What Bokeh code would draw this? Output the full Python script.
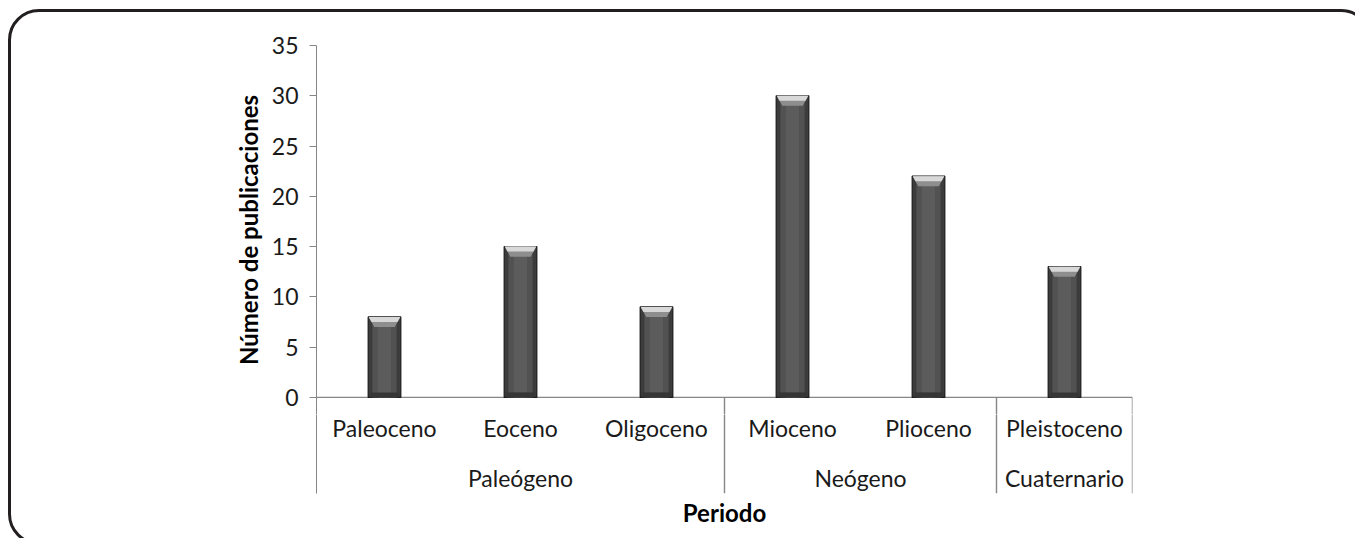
from bokeh.plotting import figure
from bokeh.layouts import column
from bokeh.models import FactorRange, Range1d, FixedTicker, Title, InlineStyleSheet, ColumnDataSource
from bokeh.core.properties import value
from bokeh.embed import file_html
from bokeh.resources import INLINE

# ---- data ----
categories = ["Paleoceno", "Eoceno", "Oligoceno", "Mioceno", "Plioceno", "Pleistoceno"]
groups = ["Paleógeno", "Paleógeno", "Paleógeno", "Neógeno", "Neógeno", "Cuaternario"]
publicaciones = [8, 15, 9, 30, 22, 13]
y_ticks = [0, 5, 10, 15, 20, 25, 30, 35]
y_title = "Número de publicaciones"
x_title = "Periodo"

# ---- style constants ----
FONT = "Lato"
AXIS_GRAY = "#868686"
TXT = "#1a1a1a"
BAR_W = 0.24
Y_PAD = -1.7           # room under the zero line in the bar panel (keeps the "0" label whole)
Y_MIN = -9.55          # bottom of the category table
CAT_LABEL_Y = -3.0
GROUP_LABEL_Y = -8.0
W = 1355
LEFT, RIGHT = 316, 223

n = len(categories)
xs = [i + 0.5 for i in range(n)]

unique_groups = []
for g in groups:
    if g not in unique_groups:
        unique_groups.append(g)
bounds = [0]
group_centres = []
for g in unique_groups:
    cnt = groups.count(g)
    start = bounds[-1]
    bounds.append(start + cnt)
    group_centres.append(start + cnt / 2)

xr = FactorRange(factors=categories, factor_padding=0, range_padding=0)

# ================= bar panel =================
p = figure(width=W, height=414, output_backend="svg", toolbar_location=None,
           x_range=xr, y_range=Range1d(Y_PAD, y_ticks[-1]), x_axis_location=None,
           min_border_left=LEFT, min_border_right=RIGHT, min_border_top=45, min_border_bottom=0)
p.outline_line_color = None
p.grid.visible = False

ya = p.yaxis[0]
ya.ticker = FixedTicker(ticks=y_ticks)
ya.axis_line_color = AXIS_GRAY
ya.major_tick_line_color = AXIS_GRAY
ya.major_tick_out = 7
ya.major_tick_in = 0
ya.minor_tick_line_color = None
ya.major_label_text_font = FONT
ya.major_label_text_font_size = "23px"
ya.major_label_text_color = TXT
ya.major_label_standoff = 11
ya.axis_label = y_title
ya.axis_label_text_font = FONT
ya.axis_label_text_font_size = "24px"
ya.axis_label_text_font_style = "bold"
ya.axis_label_text_color = "#000000"
ya.axis_label_standoff = 6

# zero line and separator stubs
p.segment(x0=[0], y0=[0], x1=[n], y1=[0], line_color=AXIS_GRAY, line_width=1.2)
p.segment(x0=bounds[1:], y0=[0] * (len(bounds) - 1), x1=bounds[1:], y1=[Y_MIN] * (len(bounds) - 1),
          line_color=AXIS_GRAY, line_width=1.4)

# bars
src = ColumnDataSource(dict(x=xs, top=publicaciones))
p.vbar(x="x", top="top", bottom=0, width=BAR_W, source=src,
       fill_color="#3c3c3c", line_color="#1a1a1a", line_width=1.2)
p.vbar(x="x", top="top", bottom=0, width=BAR_W * 0.74, source=src,
       fill_color="#525252", line_color=None)
p.vbar(x="x", top="top", bottom=0, width=BAR_W * 0.40, source=src,
       fill_color="#5c5c5c", line_color=None)
bev_h = 1.0
inset = BAR_W * 0.17
hw = BAR_W / 2 - 0.004
pxs, pys, pxs2, pys2 = [], [], [], []
for x, v in zip(xs, publicaciones):
    pxs.append([x - hw, x + hw, x + hw - inset, x - hw + inset])
    pys.append([v, v, v - bev_h, v - bev_h])
    pxs2.append([x - hw, x + hw, x + hw - inset * 0.5, x - hw + inset * 0.5])
    pys2.append([v, v, v - bev_h * 0.5, v - bev_h * 0.5])
p.patches(xs=pxs, ys=pys, fill_color="#8e8e8e", line_color=None)
p.patches(xs=pxs2, ys=pys2, fill_color="#d8d8d8", line_color=None)
p.vbar(x="x", top=0.5, bottom=0, width=BAR_W * 0.9, source=src,
       fill_color="#363636", line_color=None)

# ================= category table =================
q = figure(width=W, height=124, output_backend="svg", toolbar_location=None,
           x_range=xr, y_range=Range1d(Y_MIN, Y_PAD), x_axis_location=None,
           min_border_left=LEFT, min_border_right=RIGHT, min_border_top=0, min_border_bottom=45)
q.outline_line_color = None
q.grid.visible = False
qa = q.yaxis[0]
qa.ticker = FixedTicker(ticks=[])
qa.axis_line_color = AXIS_GRAY
qa.major_tick_line_color = None
qa.minor_tick_line_color = None
qa.major_label_text_font_size = "0px"

q.segment(x0=bounds[1:], y0=[0] * (len(bounds) - 1), x1=bounds[1:], y1=[Y_MIN] * (len(bounds) - 1),
          line_color=AXIS_GRAY, line_width=1.4)

q.text(x=xs, y=[CAT_LABEL_Y] * n, text=categories, text_font=value(FONT),
       text_font_size="23px", text_align="center", text_baseline="middle", text_color=TXT)
q.text(x=group_centres, y=[GROUP_LABEL_Y] * len(unique_groups), text=unique_groups,
       text_font=value(FONT), text_font_size="23px", text_align="center",
       text_baseline="middle", text_color=TXT)

q.add_layout(Title(text=x_title, align="center", text_font=FONT, text_font_size="24px",
                   text_font_style="bold", text_color="#000000", standoff=5, offset=0), "below")

layout = column(p, q, spacing=0)
layout.stylesheets = [InlineStyleSheet(css="""
:host { position: relative; overflow: hidden; }
:host::after {
  content: ""; position: absolute; left: 8px; top: 9px;
  width: 1364px; height: 536px; box-sizing: border-box;
  border: 3px solid #231f20; border-radius: 31px;
  pointer-events: none; z-index: 10;
}
""")]

open("out.html", "w").write(file_html(layout, INLINE))
